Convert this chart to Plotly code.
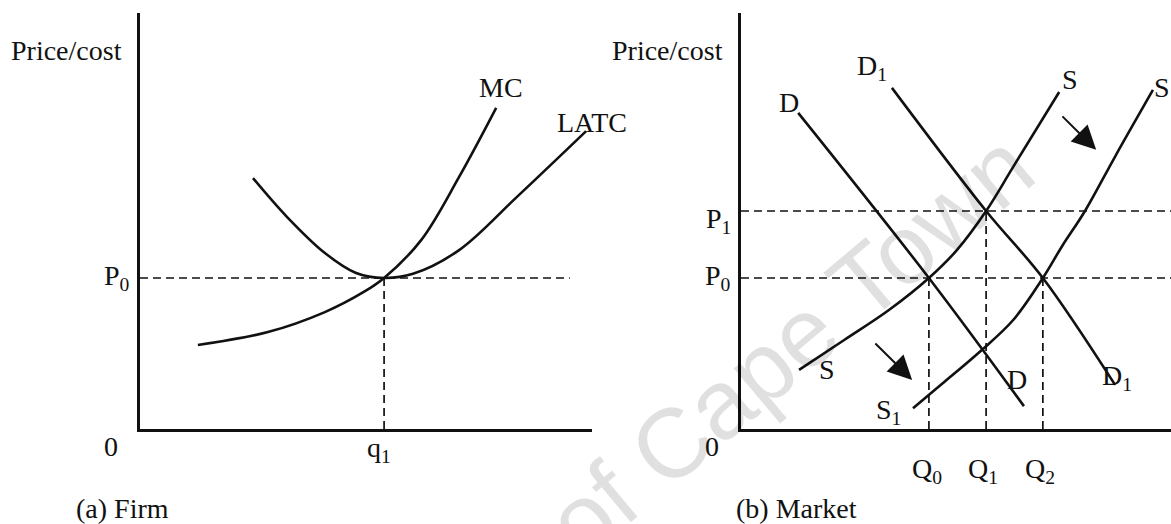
import plotly.graph_objects as go

# ---------------- Panel (a) Firm ----------------
mc_q = [1.28, 2.83, 4.09, 4.96, 5.40, 6.22, 7.06, 7.88]
mc_p = [2.02, 2.33, 2.81, 3.30, 3.63, 4.54, 6.06, 7.72]
latc_q = [2.50, 3.25, 4.09, 4.78, 5.40, 6.04, 7.06, 8.34, 9.87]
latc_p = [6.03, 5.10, 4.23, 3.75, 3.63, 3.73, 4.30, 5.58, 7.16]
firm_p0 = 3.63
firm_q1 = 5.40
firm_dash_end = 9.51

# ---------------- Panel (b) Market ----------------
d_q = [1.33, 4.37, 6.58]
d_p = [7.60, 3.63, 0.55]
d1_q = [3.51, 5.70, 7.02, 8.70]
d1_p = [8.20, 5.24, 3.63, 1.06]
s_q = [1.35, 2.40, 3.44, 4.37, 5.02, 5.70, 6.33, 7.40]
s_p = [1.42, 2.14, 2.86, 3.63, 4.30, 5.24, 6.30, 8.10]
s1_q = [4.00, 4.67, 5.58, 6.33, 7.02, 7.47, 8.00, 8.70, 9.58]
s1_p = [0.50, 1.08, 1.88, 2.62, 3.63, 4.40, 5.24, 6.55, 8.15]
mkt_p0 = 3.63
mkt_p1 = 5.24
mkt_q0 = 4.37
mkt_q1 = 5.70
mkt_q2 = 7.02

FONT = "Liberation Serif"
FS = 28
BLACK = "#111111"
W, H = 1171, 524

# axis domains (paper fractions)
XDOM_A = [140 / W, 592 / W]
XDOM_B = [741 / W, 1.0]
YDOM = [1 - 429 / H, 1 - 13 / H]
XR = [0, 10]
YR = [0, 10]

fig = go.Figure()

def curve(x, y, xa, ya):
    fig.add_trace(go.Scatter(x=x, y=y, xaxis=xa, yaxis=ya, mode="lines",
                             line=dict(color=BLACK, width=2.6, shape="spline", smoothing=1.0),
                             hoverinfo="skip", showlegend=False))

def dashed(x, y, xa, ya):
    fig.add_trace(go.Scatter(x=x, y=y, xaxis=xa, yaxis=ya, mode="lines",
                             line=dict(color=BLACK, width=1.7, dash="8px,5px"),
                             hoverinfo="skip", showlegend=False))

# Firm
dashed([0, firm_dash_end], [firm_p0, firm_p0], "x", "y")
dashed([firm_q1, firm_q1], [0, firm_p0], "x", "y")
curve(mc_q, mc_p, "x", "y")
curve(latc_q, latc_p, "x", "y")

# Market
dashed([0, 10], [mkt_p1, mkt_p1], "x2", "y2")
dashed([0, 10], [mkt_p0, mkt_p0], "x2", "y2")
dashed([mkt_q0, mkt_q0], [0, mkt_p0], "x2", "y2")
dashed([mkt_q1, mkt_q1], [0, mkt_p1], "x2", "y2")
dashed([mkt_q2, mkt_q2], [0, mkt_p0], "x2", "y2")
curve(d_q, d_p, "x2", "y2")
curve(d1_q, d1_p, "x2", "y2")
curve(s_q, s_p, "x2", "y2")
curve(s1_q, s1_p, "x2", "y2")

ax_common = dict(showgrid=False, zeroline=False, showticklabels=False, ticks="",
                 showline=True, linecolor=BLACK, linewidth=2.6, fixedrange=True)

fig.update_layout(
    width=W, height=H,
    margin=dict(l=0, r=0, t=0, b=0),
    paper_bgcolor="white", plot_bgcolor="white",
    showlegend=False,
    xaxis=dict(domain=XDOM_A, range=XR, anchor="y", **ax_common),
    yaxis=dict(domain=YDOM, range=YR, anchor="x", **ax_common),
    xaxis2=dict(domain=XDOM_B, range=XR, anchor="y2", **ax_common),
    yaxis2=dict(domain=YDOM, range=YR, anchor="x2", **ax_common),
)

def to_paper(x, y, xdom):
    px = xdom[0] + (x - XR[0]) / (XR[1] - XR[0]) * (xdom[1] - xdom[0])
    py = YDOM[0] + (y - YR[0]) / (YR[1] - YR[0]) * (YDOM[1] - YDOM[0])
    return px, py

def label(text, x, y, xdom, size=FS, xanchor="center"):
    px, py = to_paper(x, y, xdom)
    fig.add_annotation(text=text, x=px, y=py, xref="paper", yref="paper", showarrow=False,
                       xanchor=xanchor, yanchor="middle",
                       font=dict(family=FONT, size=size, color=BLACK))

# Firm labels
label("Price/cost", -1.62, 9.11, XDOM_A)
label("P<sub>0</sub>", -0.51, firm_p0, XDOM_A)
label("0", -0.64, -0.43, XDOM_A)
label("q<sub>1</sub>", 5.29, -0.50, XDOM_A)
label("MC", 7.99, 8.22, XDOM_A)
label("LATC", 10.0, 7.36, XDOM_A)
label("(a) Firm", -0.38, -1.92, XDOM_A)

# Market labels
label("Price/cost", -1.70, 9.11, XDOM_B)
label("P<sub>1</sub>", -0.53, 5.02, XDOM_B)
label("P<sub>0</sub>", -0.53, mkt_p0, XDOM_B)
label("0", -0.67, -0.43, XDOM_B)
label("Q<sub>0</sub>", 4.33, -0.99, XDOM_B)
label("Q<sub>1</sub>", 5.63, -0.99, XDOM_B)
label("Q<sub>2</sub>", 6.95, -0.99, XDOM_B)
label("(b) Market", 1.30, -1.92, XDOM_B)
label("D", 1.12, 7.84, XDOM_B)
label("D<sub>1</sub>", 3.05, 8.68, XDOM_B)
label("S", 7.65, 8.39, XDOM_B)
label("S", 9.78, 8.2, XDOM_B)
label("S", 2.0, 1.42, XDOM_B)
label("D", 6.42, 1.18, XDOM_B)
label("D<sub>1</sub>", 8.75, 1.25, XDOM_B)
label("S<sub>1</sub>", 3.44, 0.41, XDOM_B)

# shift arrows
for (tx, ty, hx, hy) in [(7.44, 7.55, 8.26, 6.71), (3.09, 2.09, 3.98, 1.18)]:
    fig.add_annotation(x=hx, y=hy, ax=tx, ay=ty, xref="x2", yref="y2",
                       axref="x2", ayref="y2", text="", showarrow=True,
                       arrowhead=2, arrowsize=2.4, arrowwidth=2.0, arrowcolor=BLACK)

# watermark (semi-transparent so black lines stay black)
fig.add_annotation(text="University of Cape Town", x=614 / W, y=1 - 492 / H,
                   xref="paper", yref="paper", showarrow=False, textangle=-40,
                   xanchor="center", yanchor="middle",
                   font=dict(family="Liberation Sans", size=98, color="rgba(0,0,0,0.12)"))

fig.write_html("out.html", config={"displayModeBar": False},
               post_script="document.body.style.margin='0';")
